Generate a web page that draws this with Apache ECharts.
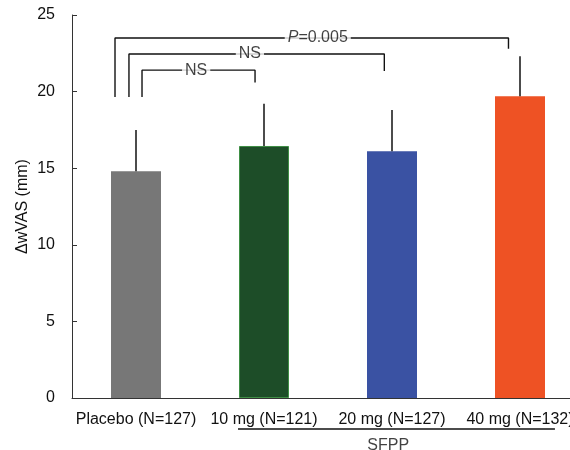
<!DOCTYPE html>
<html><head><meta charset="utf-8">
<script src="https://cdn.jsdelivr.net/npm/echarts@6/dist/echarts.min.js"></script>
<style>html,body{margin:0;padding:0;background:#fff}#c{width:570px;height:450px}</style>
</head><body><div id="c"></div>
<script>
var categories = ['Placebo (N=127)', '10 mg (N=121)', '20 mg (N=127)', '40 mg (N=132)'];
var means = [14.8, 16.45, 16.1, 19.7];
var upper = [17.5, 19.2, 18.8, 22.3];
var colors = ['#777777', '#1d4d28', '#3a52a3', '#ee5224'];
var yTicks = [0, 5, 10, 15, 20, 25];
// significance brackets: [xLeft, xRight, yTop, yLeftBottom, yRightBottom, label, labelX]
var brackets = [
  [0.336, 3.41, 23.5, 19.65, 22.8, 'P=0.005', 1.92],
  [0.445, 2.44, 22.45, 19.65, 21.35, 'NS', 1.39],
  [0.547, 1.43, 21.4, 19.65, 20.6, 'NS', 0.97]
];
var groupLine = [[1.297, -2.02], [3.773, -2.02]];
var groupLabel = ['SFPP', 2.47, -3.1];

var FONT = 'Liberation Sans, Arial, sans-serif';
var FS = 16;
var chart = echarts.init(document.getElementById('c'));

var series = [];
series.push({
  type: 'bar', xAxisIndex: 0, yAxisIndex: 0, barWidth: 50,
  data: means.map(function (v, i) {
    return { value: v, itemStyle: { color: colors[i], borderColor: i === 1 ? '#3f8f45' : colors[i], borderWidth: i === 1 ? 1 : 0 } };
  }),
  z: 2
});
series.push({
  type: 'custom', xAxisIndex: 0, yAxisIndex: 0, z: 3,
  data: means.map(function (v, i) { return [i, v, upper[i]]; }),
  renderItem: function (params, api) {
    var p0 = api.coord([api.value(0), api.value(1)]);
    var p1 = api.coord([api.value(0), api.value(2)]);
    return { type: 'line', shape: { x1: p0[0], y1: p0[1], x2: p1[0], y2: p1[1] }, style: { stroke: '#111', lineWidth: 1.5 } };
  }
});
brackets.forEach(function (b) {
  series.push({
    type: 'line', xAxisIndex: 1, yAxisIndex: 0, symbol: 'none', silent: true, z: 4,
    lineStyle: { color: '#111', width: 1.4 },
    data: [[b[0], b[3]], [b[0], b[2]], [b[1], b[2]], [b[1], b[4]]]
  });
  series.push({
    type: 'scatter', xAxisIndex: 1, yAxisIndex: 0, symbolSize: 0, silent: true, z: 5,
    data: [[b[6], b[2]]],
    label: {
      show: true, position: 'inside', formatter: b[5] === 'NS' ? 'NS' : '{i|P}=0.005',
      color: '#111', fontSize: FS, fontFamily: FONT, backgroundColor: '#fff', padding: [0, 3],
      rich: { i: { fontStyle: 'italic', fontSize: FS, fontFamily: FONT, color: '#111' } }
    }
  });
});
series.push({
  type: 'line', xAxisIndex: 1, yAxisIndex: 0, symbol: 'none', clip: false, silent: true,
  lineStyle: { color: '#111', width: 1.5 }, data: groupLine
});
series.push({
  type: 'scatter', xAxisIndex: 1, yAxisIndex: 0, symbolSize: 0, clip: false, silent: true,
  data: [[groupLabel[1], groupLabel[2]]],
  label: { show: true, position: 'inside', formatter: groupLabel[0], color: '#111', fontSize: FS, fontFamily: FONT }
});

chart.setOption({
  animation: false,
  grid: { left: 72, top: 15, bottom: 52, width: 512, outerBoundsMode: 'none', containLabel: false },
  xAxis: [{
    type: 'category', data: categories, position: 'bottom',
    axisLine: { lineStyle: { color: '#333', width: 1 } },
    axisTick: { inside: true, length: 5, lineStyle: { color: '#333' } },
    axisLabel: { color: '#111', fontSize: FS, fontFamily: FONT, margin: 14, interval: 0, hideOverlap: false }
  }, {
    type: 'value', min: 0, max: 4, show: false
  }],
  yAxis: [{
    type: 'value', min: 0, max: 25, interval: 5,
    name: '\u0394wVAS (mm)', nameLocation: 'middle', nameGap: 41, nameMoveOverlap: false,
    nameTextStyle: { color: '#111', fontSize: FS, fontFamily: FONT },
    axisLine: { show: true, lineStyle: { color: '#333', width: 1 } },
    axisTick: { show: true, inside: true, length: 5, lineStyle: { color: '#333' } },
    axisLabel: { color: '#111', fontSize: FS, fontFamily: FONT, margin: 17 },
    splitLine: { show: false }
  }],
  series: series
});
</script></body></html>
